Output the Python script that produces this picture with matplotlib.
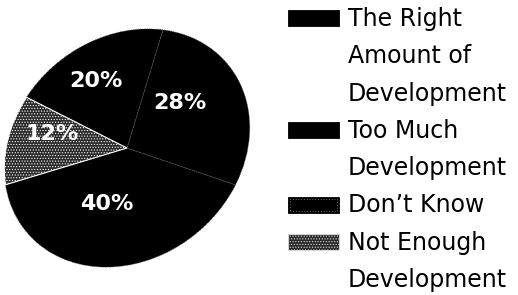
import matplotlib
matplotlib.use("Agg")
import matplotlib.pyplot as plt
from matplotlib.transforms import Affine2D
from matplotlib.patches import Rectangle

categories = ["The Right\nAmount of\nDevelopment", "Too Much\nDevelopment",
              "Don\u2019t Know", "Not Enough\nDevelopment"]
values = [40, 28, 20, 12]
hatches = [None, None, None, "......"]

plt.rcParams["font.family"] = ["DejaVu Sans"]
plt.rcParams["hatch.linewidth"] = 0.5

fig = plt.figure(figsize=(5.18, 2.95), dpi=100)
ax = fig.add_axes([0, 0, 1, 1])

wedges, texts, autotexts = ax.pie(
    values, startangle=153, counterclock=True,
    autopct=lambda p: f"{p:.0f}%", pctdistance=0.55,
    wedgeprops=dict(facecolor="black", edgecolor="#5a5a5a", linewidth=0.6, linestyle=":"),
    textprops=dict(color="white", fontsize=16, fontweight="bold"))
ax.set_xlim(0, 518)
ax.set_ylim(0, 295)
ax.set_aspect("auto")
ax.axis("off")

tr = Affine2D().scale(131, 110).rotate_deg(40).translate(127, 147) + ax.transData
tr_lab = Affine2D().scale(131, 110).rotate_deg(40).translate(118, 157) + ax.transData
for w, h in zip(wedges, hatches):
    w.set_transform(tr)
    if h:
        w.set_hatch(h)
        w.set_facecolor("#2a2a2a")
        w.set_edgecolor("white")
        w.set_linestyle("-")
        w.set_linewidth(0.8)
for t in autotexts:
    t.set_transform(tr_lab)

# legend
line_h = 37.3
row = 0
for i, (lab, h) in enumerate(zip(categories, hatches)):
    top = 8 + line_h * row
    y0 = 295 - (top + 18)
    ax.add_patch(Rectangle((288, y0), 51, 16,
                           facecolor="#2a2a2a" if h else "black",
                           edgecolor="#dddddd" if h else "black",
                           hatch=h, linewidth=0.6))
    if i == 2:
        ax.add_patch(Rectangle((290, y0 + 2), 47, 12, facecolor="none",
                               edgecolor="#cfcfcf", linestyle=(0, (1, 3)), linewidth=0.5))
    for line in lab.split("\n"):
        top = 8 + line_h * row
        ax.text(348, 295 - (top + 18), line, fontsize=17, color="black",
                va="baseline", ha="left")
        row += 1

fig.savefig("out.png", dpi=100)
